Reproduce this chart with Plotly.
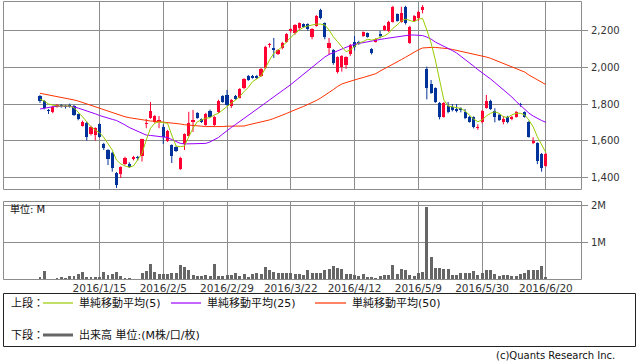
import math
import plotly.graph_objects as go
import pandas as pd

# ---------------- data ----------------
holidays = ["2015-12-23", "2015-12-31", "2016-01-01", "2016-01-11", "2016-02-11",
            "2016-03-21", "2016-04-29", "2016-05-03", "2016-05-04", "2016-05-05"]
_days = pd.bdate_range("2015-12-22", "2016-06-20", freq="C", holidays=holidays)
dates = [f"{d.year}/{d.month}/{d.day}" for d in _days]

tick_labels = ["2016/1/15", "2016/2/5", "2016/2/29", "2016/3/22",
               "2016/4/12", "2016/5/9", "2016/5/30", "2016/6/20"]

opens = [1843, 1818, 1765, 1758, 1785, 1793, 1787, 1795, 1789, 1744,
         1683, 1699, 1638, 1632, 1690, 1584, 1551, 1537, 1427, 1422,
         1476, 1476, 1505, 1512, 1519, 1690, 1726, 1704, 1704, 1674,
         1600, 1578, 1566, 1447, 1584, 1629, 1701, 1750, 1717, 1687,
         1764, 1687, 1758, 1843, 1849, 1789, 1843, 1834, 1885, 1951,
         1951, 1951, 1951, 1993, 2117, 2101, 2070, 2101, 2137, 2196,
         2182, 2209, 2232, 2232, 2161, 2222, 2308, 2236, 2101, 2092,
         1975, 2002, 2011, 2070, 2137, 2137, 2168, 2182, 2096, 2137,
         2178, 2200, 2196, 2245, 2285, 2245, 2326, 2131, 2250, 2263,
         2308, 1990, 1907, 1885, 1804, 1731, 1789, 1785, 1771, 1777,
         1758, 1731, 1728, 1668, 1701, 1780, 1818, 1762, 1741, 1704,
         1731, 1717, 1731, 1800, 1755, 1704, 1588, 1588, 1530, 1465]
highs = [1849, 1822, 1773, 1790, 1800, 1800, 1795, 1802, 1795, 1748,
         1710, 1705, 1682, 1674, 1695, 1590, 1556, 1541, 1432, 1463,
         1515, 1485, 1520, 1520, 1612, 1719, 1811, 1740, 1735, 1690,
         1660, 1582, 1572, 1515, 1641, 1758, 1768, 1756, 1722, 1752,
         1770, 1737, 1823, 1848, 1876, 1827, 1849, 1886, 1940, 1957,
         1957, 1957, 1995, 2115, 2130, 2157, 2097, 2136, 2183, 2209,
         2232, 2241, 2236, 2236, 2210, 2281, 2315, 2241, 2157, 2097,
         2058, 2064, 2058, 2125, 2168, 2142, 2193, 2187, 2102, 2156,
         2196, 2227, 2250, 2331, 2290, 2326, 2331, 2223, 2281, 2304,
         2335, 2002, 1930, 1890, 1811, 1811, 1811, 1800, 1800, 1782,
         1773, 1736, 1733, 1690, 1768, 1849, 1823, 1777, 1746, 1735,
         1736, 1736, 1762, 1806, 1760, 1709, 1620, 1593, 1535, 1535]
lows = [1806, 1771, 1746, 1750, 1780, 1780, 1775, 1780, 1735, 1712,
        1678, 1602, 1630, 1602, 1618, 1551, 1470, 1434, 1346, 1400,
        1470, 1455, 1495, 1495, 1489, 1669, 1720, 1698, 1669, 1584,
        1595, 1481, 1540, 1443, 1551, 1625, 1649, 1720, 1698, 1682,
        1726, 1680, 1752, 1806, 1790, 1778, 1822, 1830, 1880, 1925,
        1937, 1935, 1946, 1988, 2105, 2049, 2065, 2096, 2132, 2185,
        2175, 2200, 2213, 2196, 2150, 2218, 2258, 2150, 2065, 2012,
        1965, 1975, 1990, 2060, 2090, 2120, 2163, 2159, 2068, 2132,
        2155, 2195, 2190, 2240, 2245, 2240, 2230, 2125, 2245, 2250,
        2290, 1825, 1855, 1806, 1717, 1726, 1750, 1760, 1755, 1755,
        1718, 1699, 1668, 1660, 1695, 1775, 1768, 1701, 1708, 1690,
        1695, 1712, 1726, 1785, 1726, 1618, 1583, 1475, 1434, 1460]
closes = [1818, 1777, 1760, 1785, 1795, 1790, 1785, 1789, 1741, 1719,
          1704, 1620, 1677, 1669, 1623, 1564, 1503, 1452, 1362, 1459,
          1508, 1461, 1512, 1508, 1609, 1693, 1764, 1735, 1714, 1622,
          1654, 1519, 1548, 1510, 1636, 1696, 1714, 1726, 1704, 1746,
          1731, 1731, 1818, 1812, 1795, 1822, 1827, 1881, 1934, 1930,
          1942, 1941, 1989, 2110, 2121, 2092, 2092, 2131, 2178, 2204,
          2227, 2236, 2218, 2204, 2205, 2276, 2263, 2161, 2131, 2020,
          2052, 2059, 2052, 2119, 2106, 2128, 2188, 2164, 2074, 2151,
          2169, 2222, 2245, 2326, 2250, 2290, 2236, 2218, 2276, 2299,
          2326, 1885, 1861, 1812, 1731, 1804, 1758, 1768, 1764, 1768,
          1723, 1704, 1674, 1672, 1762, 1818, 1773, 1728, 1714, 1717,
          1704, 1731, 1758, 1795, 1731, 1623, 1602, 1492, 1452, 1530]

sma5 = [1826, 1816, 1800, 1795, 1789, 1789, 1789, 1789, 1780, 1758,
        1731, 1704, 1677, 1659, 1645, 1620, 1588, 1551, 1497, 1476,
        1465, 1458, 1465, 1497, 1533, 1605, 1669, 1696, 1704, 1699,
        1696, 1632, 1573, 1569, 1573, 1623, 1669, 1704, 1714, 1723,
        1726, 1741, 1750, 1768, 1785, 1804, 1822, 1840, 1867, 1890,
        1921, 1934, 1951, 1993, 2038, 2074, 2092, 2110, 2137, 2161,
        2182, 2200, 2215, 2222, 2227, 2232, 2232, 2227, 2200, 2164,
        2137, 2110, 2083, 2092, 2110, 2131, 2137, 2150, 2146, 2150,
        2161, 2168, 2182, 2209, 2227, 2250, 2259, 2250, 2245, 2258,
        2263, 2200, 2130, 2038, 1924, 1822, 1789, 1784, 1778, 1776,
        1762, 1741, 1719, 1704, 1714, 1735, 1750, 1758, 1750, 1731,
        1728, 1741, 1750, 1750, 1741, 1714, 1677, 1623, 1578, 1537]
sma25 = [1773, 1778, 1782, 1785, 1787, 1789, 1789, 1787, 1785, 1778,
         1771, 1763, 1755, 1747, 1738, 1730, 1723, 1717, 1711, 1700,
         1687, 1673, 1663, 1651, 1641, 1632, 1630, 1627, 1625, 1623,
         1619, 1608, 1597, 1587, 1584, 1584, 1584, 1584, 1585, 1587,
         1595, 1605, 1619, 1638, 1657, 1673, 1689, 1705, 1724, 1741,
         1757, 1773, 1789, 1805, 1822, 1838, 1854, 1870, 1887, 1905,
         1924, 1943, 1962, 1981, 2000, 2019, 2038, 2054, 2068, 2078,
         2089, 2100, 2108, 2116, 2123, 2128, 2132, 2137, 2141, 2145,
         2149, 2153, 2157, 2161, 2164, 2168, 2172, 2173, 2173, 2172,
         2170, 2162, 2151, 2135, 2124, 2113, 2103, 2089, 2076, 2059,
         2041, 2022, 2005, 1986, 1970, 1954, 1935, 1916, 1897, 1878,
         1859, 1838, 1814, 1792, 1770, 1751, 1735, 1722, 1711, 1701]
sma50 = [1858, 1854, 1849, 1845, 1841, 1836, 1831, 1827, 1822, 1816,
         1808, 1800, 1792, 1784, 1776, 1768, 1759, 1751, 1744, 1738,
         1731, 1726, 1722, 1717, 1714, 1710, 1708, 1707, 1705, 1704,
         1701, 1697, 1695, 1692, 1688, 1685, 1683, 1681, 1680, 1678,
         1677, 1677, 1677, 1678, 1680, 1681, 1681, 1681, 1681, 1687,
         1692, 1696, 1703, 1708, 1714, 1722, 1730, 1738, 1749, 1759,
         1770, 1778, 1787, 1797, 1808, 1819, 1832, 1846, 1862, 1878,
         1895, 1908, 1916, 1924, 1930, 1937, 1943, 1950, 1957, 1964,
         1978, 1990, 2001, 2013, 2024, 2040, 2053, 2067, 2080, 2093,
         2103, 2106, 2106, 2106, 2105, 2103, 2099, 2095, 2090, 2086,
         2083, 2078, 2073, 2065, 2059, 2054, 2047, 2038, 2029, 2020,
         2011, 2002, 1993, 1984, 1973, 1957, 1943, 1930, 1916, 1905]

volume_m = [0.09, 0.24, 0.03, 0.03, 0.05, 0.08, 0.05, 0.10, 0.12, 0.16,
            0.21, 0.08, 0.09, 0.08, 0.08, 0.21, 0.13, 0.17, 0.21, 0.12,
            0.05, 0.05, 0.04, 0.03, 0.19, 0.24, 0.43, 0.21, 0.15, 0.16,
            0.17, 0.18, 0.18, 0.40, 0.34, 0.27, 0.13, 0.12, 0.12, 0.14,
            0.12, 0.43, 0.11, 0.12, 0.13, 0.14, 0.20, 0.12, 0.15, 0.09,
            0.16, 0.20, 0.16, 0.35, 0.26, 0.21, 0.18, 0.18, 0.20, 0.20,
            0.15, 0.15, 0.13, 0.26, 0.19, 0.20, 0.20, 0.26, 0.29, 0.38,
            0.33, 0.29, 0.16, 0.16, 0.13, 0.12, 0.16, 0.08, 0.08, 0.06,
            0.11, 0.13, 0.13, 0.41, 0.16, 0.29, 0.27, 0.13, 0.11, 0.20,
            0.22, 1.95, 0.61, 0.33, 0.33, 0.29, 0.29, 0.13, 0.13, 0.20,
            0.20, 0.20, 0.24, 0.13, 0.20, 0.27, 0.27, 0.16, 0.12, 0.13,
            0.13, 0.10, 0.10, 0.16, 0.20, 0.27, 0.27, 0.27, 0.38, 0.09]

price_ticks = [1400, 1600, 1800, 2000, 2200]
vol_ticks = [1, 2]
vol_tick_text = ["1M", "2M"]

# ---------------- styling ----------------
UP = "#ff0033"
DOWN = "#003399"
C5 = "#99cc00"
C25 = "#9900ff"
C50 = "#ff3300"
VOLC = "#666666"
GRID = "#8c8c8c"
TXT = "#333333"
FONT = "DejaVu Sans, Noto Sans CJK JP, sans-serif"

W, H = 638, 362
ML, MR, MT, MB = 3, 56, 1, 82
PW = W - ML - MR
PH = H - MT - MB

XR = [-8.7, 127.5]
PRICE_R = [1335, 2357]
VOL_R = [0, 2.11]
P_TOP, P_BOT = 1, 190      # price panel pixel rows
V_TOP, V_BOT = 201, 280    # volume panel pixel rows


def px_x(px):
    return (px - ML) / PW


def px_y(py):
    return (H - MB - py) / PH


def snap(p):
    return math.floor(p) + 0.5


fig = go.Figure()

# wicks
for col, pick in ((UP, lambda o, c: c >= o), (DOWN, lambda o, c: c < o)):
    wx, wy = [], []
    for d, o, h, l, c in zip(dates, opens, highs, lows, closes):
        if pick(o, c):
            wx += [d, d, None]
            wy += [l, h, None]
    fig.add_trace(go.Scatter(x=wx, y=wy, mode="lines", line=dict(color=col, width=1),
                             hoverinfo="skip", showlegend=False, xaxis="x", yaxis="y"))

# bodies
for col, pick in ((UP, lambda o, c: c >= o), (DOWN, lambda o, c: c < o)):
    bx, bh, bb = [], [], []
    for d, o, c in zip(dates, opens, closes):
        if pick(o, c):
            lo = min(o, c)
            hgt = max(abs(c - o), 5)
            bx.append(d)
            bh.append(hgt)
            bb.append(lo)
    fig.add_trace(go.Bar(x=bx, y=bh, base=bb, width=0.74, marker=dict(color=col, line=dict(width=0)),
                         showlegend=False, xaxis="x", yaxis="y"))

# moving averages
for vals, col in ((sma50, C50), (sma25, C25), (sma5, C5)):
    fig.add_trace(go.Scatter(x=dates, y=vals, mode="lines", line=dict(color=col, width=1),
                             showlegend=False, xaxis="x", yaxis="y"))

# volume
fig.add_trace(go.Bar(x=dates, y=volume_m, width=0.7, marker=dict(color=VOLC, line=dict(width=0)),
                     showlegend=False, xaxis="x2", yaxis="y2"))

common_x = dict(type="category", range=XR, tickvals=tick_labels, ticktext=tick_labels,
                showgrid=False, showline=False, ticks="", zeroline=False,
                categoryorder="array", categoryarray=dates)
common_y = dict(side="right", ticks="outside", ticklen=6, tickcolor="rgba(0,0,0,0)",
                showgrid=False, showline=False, zeroline=False,
                tickfont=dict(size=10, color=TXT, family=FONT))

fig.update_layout(
    width=W, height=H,
    margin=dict(l=ML, r=MR, t=MT, b=MB, pad=0),
    paper_bgcolor="white", plot_bgcolor="rgba(0,0,0,0)",
    barmode="overlay", bargap=0,
    font=dict(family=FONT, size=10, color=TXT),
    showlegend=False,
    xaxis=dict(common_x, anchor="y", domain=[0, 1], showticklabels=False),
    xaxis2=dict(common_x, anchor="y2", domain=[0, 1], matches="x", showticklabels=True,
                tickfont=dict(size=10.5, color=TXT, family=FONT)),
    yaxis=dict(common_y, domain=[px_y(P_BOT), 1], range=PRICE_R,
               tickvals=price_ticks, tickformat=",d"),
    yaxis2=dict(common_y, domain=[0, px_y(V_TOP)], range=VOL_R,
                tickvals=vol_ticks, ticktext=vol_tick_text),
)

shapes = []
annos = []


def gline(x0, y0, x1, y1, col=GRID, w=1, layer="below"):
    shapes.append(dict(type="line", xref="paper", yref="paper",
                       x0=px_x(x0), x1=px_x(x1), y0=px_y(y0), y1=px_y(y1),
                       layer=layer, line=dict(color=col, width=w)))


# pixel-snapped grid lines, panel frames and outside tick marks
x_scale = PW / (XR[1] - XR[0])
for t in tick_labels:
    xp = snap(ML + (dates.index(t) - XR[0]) * x_scale)
    gline(xp, P_TOP, xp, P_BOT)
    gline(xp, V_TOP, xp, V_BOT)
for v in price_ticks:
    yp = snap(P_TOP + (PRICE_R[1] - v) / (PRICE_R[1] - PRICE_R[0]) * (P_BOT - P_TOP))
    gline(ML, yp, W - MR, yp)
    gline(W - MR, yp, W - MR + 6, yp)
for v in vol_ticks:
    yp = snap(V_TOP + (VOL_R[1] - v) / (VOL_R[1] - VOL_R[0]) * (V_BOT - V_TOP))
    gline(ML, yp, W - MR, yp)
    gline(W - MR, yp, W - MR + 6, yp)
for top, bot in ((P_TOP, P_BOT), (V_TOP, V_BOT)):
    l, r, t_, b_ = ML + 0.5, W - MR - 0.5, top + 0.5, bot - 0.5
    gline(l, t_, r, t_, layer="above")
    gline(l, b_, r, b_, layer="above")
    gline(l, t_, l, b_, layer="above")
    gline(r, t_, r, b_, layer="above")

# legend box
shapes.append(dict(type="rect", xref="paper", yref="paper",
                   x0=px_x(3.5), x1=px_x(635.5), y0=px_y(346.5), y1=px_y(293.5),
                   line=dict(color="#222222", width=1), fillcolor="rgba(0,0,0,0)"))


def seg(x0, x1, y, col, w):
    shapes.append(dict(type="line", xref="paper", yref="paper",
                       x0=px_x(x0), x1=px_x(x1), y0=px_y(y), y1=px_y(y),
                       line=dict(color=col, width=w)))


def txt(x, y, s, anchor="left", size=11):
    annos.append(dict(xref="paper", yref="paper", x=px_x(x), y=px_y(y), text=s,
                      showarrow=False, xanchor=anchor, yanchor="middle",
                      font=dict(family=FONT, size=size, color="#111111")))


row1, row2 = 303, 335
txt(9, row1, "上段：")
seg(43, 73, row1, C5, 1.2)
txt(77, row1, "単純移動平均(5)")
seg(171, 201, row1, C25, 1.2)
txt(205, row1, "単純移動平均(25)")
seg(315, 346, row1, C50, 1.2)
txt(350, row1, "単純移動平均(50)")

txt(9, row2, "下段：")
seg(43, 73, row2, VOLC, 3)
txt(77, row2, "出来高 単位:(M株/口/枚)")

txt(617, 355, "(c)Quants Research Inc.", anchor="right", size=10)
txt(8, 209, "単位: M", size=10)

fig.update_layout(shapes=shapes, annotations=annos)

fig.write_html(
    "out.html",
    config={"displayModeBar": False, "staticPlot": True},
    post_script="document.body.style.margin='0';document.body.style.padding='0';"
                "document.documentElement.style.overflow='hidden';",
)
